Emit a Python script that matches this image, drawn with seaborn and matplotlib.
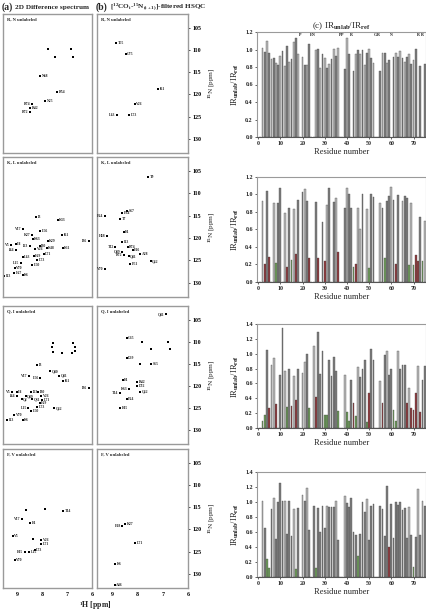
import numpy as np
import pandas as pd
import matplotlib
matplotlib.use('Agg')
import matplotlib.pyplot as plt
import seaborn as sns
from matplotlib.ticker import MultipleLocator

# ---------------- spectra data (1H ppm, 15N ppm) ----------------
a1_names = ['N68', 'R54', 'N25', 'R74', 'R42', 'R72']
a1_H = [8.10, 7.41, 7.89, 8.42, 8.49, 8.51]
a1_N = [115.9, 119.5, 121.4, 122.1, 123.1, 123.9]
a1_side = ['r', 'r', 'r', 'l', 'r', 'l']
a1_xH = [7.79, 7.50, 6.84, 6.76]
a1_xN = [109.7, 111.5, 109.7, 111.5]

b1_names = ['T55', 'G75', 'I61', 'V26', 'L43', 'L73']
b1_H = [8.85, 8.47, 7.18, 8.10, 8.80, 8.32]
b1_N = [108.5, 110.8, 118.8, 122.2, 124.6, 124.6]
b1_side = ['r', 'r', 'r', 'r', 'l', 'r']

a2_names = ['I3', 'K33', 'V17', 'L56', 'K27', 'I61', 'K29', 'I36', 'K63', 'I30', 'V5', 'L8',
            'I44', 'I23', 'V26', 'K48', 'K11', 'L71', 'L43', 'L69', 'L73', 'L15', 'L50',
            'V70', 'L67', 'I13', 'K6']
a2_H = [8.25, 7.38, 8.80, 8.09, 8.42, 7.21, 7.80, 6.12, 8.40, 8.12, 9.28, 9.08,
        9.08, 8.51, 8.29, 7.83, 7.19, 7.96, 8.81, 8.36, 8.22, 8.88, 8.42,
        9.12, 9.15, 9.54, 8.81]
a2_N = [115.4, 115.9, 117.9, 118.4, 119.3, 119.3, 120.7, 120.7, 120.3, 121.7, 121.6, 121.3,
        122.6, 121.7, 122.5, 122.3, 122.3, 123.6, 124.2, 124.1, 124.9, 125.6, 126.0,
        126.8, 127.9, 128.4, 128.2]
a2_side = ['r', 'r', 'l', 'r', 'l', 'r', 'r', 'l', 'r', 'r', 'l', 'r',
           'l', 'l', 'r', 'r', 'r', 'r', 'r', 'r', 'r', 'l', 'r',
           'r', 'r', 'r', 'r']

b2_names = ['T9', 'S57', 'E34', 'E64', 'T7', 'F4', 'H68', 'I13', 'T12', 'R74', 'E16',
            'A28', 'Q49', 'R72', 'Q41', 'E51', 'Q62', 'V70']
b2_H = [7.58, 8.42, 8.60, 9.30, 8.69, 8.55, 9.19, 8.60, 8.87, 8.38, 8.19,
        7.88, 8.60, 8.55, 8.35, 8.28, 7.47, 9.30]
b2_N = [106.3, 113.9, 114.5, 115.0, 115.7, 118.6, 119.6, 120.8, 122.0, 122.0, 122.8,
        123.6, 123.1, 123.9, 124.1, 125.9, 125.2, 127.0]
b2_side = ['r', 'r', 'r', 'l', 'r', 'r', 'l', 'r', 'l', 'r', 'r',
           'r', 'l', 'l', 'r', 'r', 'r', 'l']

a3_names = ['I3', 'Q40', 'V17', 'L56', 'Q41', 'I61', 'I36', 'I23', 'V5', 'L8', 'I30', 'I44',
            'Q49', 'V26', 'Q2', 'Q31', 'L71', 'L69', 'L73', 'Q62', 'L15', 'L50', 'V70',
            'I13', 'K6']
a3_H = [8.22, 7.69, 8.55, 8.09, 7.33, 7.17, 6.14, 8.46, 9.25, 9.04, 8.18, 9.04,
        8.68, 8.06, 8.85, 8.42, 8.02, 8.12, 8.22, 7.53, 8.58, 8.46, 9.15,
        9.43, 8.81]
a3_N = [115.3, 116.7, 117.8, 118.2, 117.7, 119.0, 120.6, 121.3, 121.3, 121.3, 121.3, 122.4,
        122.3, 122.2, 123.0, 123.1, 123.3, 124.0, 124.7, 125.1, 125.1, 125.7, 126.7,
        127.7, 127.8]
a3_side = ['r', 'r', 'l', 'l', 'r', 'r', 'l', 'r', 'l', 'r', 'r', 'l',
           'r', 'r', 'r', 'r', 'r', 'r', 'r', 'r', 'l', 'r', 'r',
           'r', 'r']
a3_xH = [7.56, 6.77, 7.60, 6.68, 7.56, 7.23, 6.80, 6.68]
a3_xN = [110.4, 110.4, 111.3, 111.3, 112.4, 112.6, 112.6, 112.2]

b3_names = ['Q41', 'G35', 'D39', 'S65', 'F4', 'R42', 'K63', 'D52', 'Q62', 'T14', 'E24', 'F45']
b3_H = [6.87, 8.42, 8.42, 7.47, 8.58, 8.02, 8.35, 8.02, 7.88, 8.69, 8.42, 8.69]
b3_N = [103.8, 109.1, 113.7, 115.0, 118.6, 119.1, 120.7, 120.0, 121.3, 121.7, 123.1, 125.1]
b3_side = ['l', 'r', 'r', 'r', 'r', 'r', 'l', 'r', 'r', 'l', 'r', 'r']
b3_xH = [7.81, 6.80, 7.47, 6.73, 7.88]
b3_xN = [110.1, 110.1, 111.7, 111.7, 115.1]

a4_names = ['T14', 'V17', 'F4', 'V5', 'V26', 'L71', 'L73', 'F45', 'L15', 'V70']
a4_H = [7.17, 8.85, 8.49, 9.21, 8.06, 8.06, 8.32, 8.72, 8.55, 9.12]
a4_N = [115.9, 117.7, 118.5, 121.4, 122.4, 123.3, 124.6, 125.2, 125.2, 126.9]
a4_side = ['r', 'l', 'r', 'r', 'r', 'r', 'r', 'l', 'r', 'r']
a4_xH = [8.68, 7.89, 8.38]
a4_xN = [115.7, 115.4, 122.2]

b4_names = ['E18', 'K27', 'L71', 'K6', 'A46']
b4_H = [8.60, 8.49, 8.08, 8.89, 8.89]
b4_N = [119.3, 118.9, 123.1, 127.7, 132.5]
b4_side = ['l', 'r', 'r', 'r', 'r']

panel_titles = ['R, N unlabeled', 'K, L unlabeled', 'Q, I unlabeled', 'F, V unlabeled']
n_ticks = [105, 110, 115, 120, 125, 130]
h_ticks = [9, 8, 7, 6]

# ---------------- IR ratio data ----------------
c1_res = [2, 3, 4, 5, 6, 7, 8, 9, 10, 11, 12, 13, 14, 15, 16, 17, 18,
          20, 21, 22, 23, 26, 27, 28, 29, 30, 31, 32, 33, 34, 35, 36,
          39, 40, 41, 43, 44, 45, 46, 47, 48, 49, 50, 51, 52,
          55, 56, 57, 58, 59, 61, 62, 63, 64, 65, 66, 67, 68, 69, 70, 71, 73, 75]
c1_val = [1.02, 0.97, 1.10, 0.96, 0.89, 0.90, 0.85, 0.82, 0.93, 0.98, 0.81, 1.04, 0.86, 0.89, 1.09, 1.13, 0.95,
          0.92, 0.82, 0.82, 1.06, 1.00, 1.01, 0.79, 0.95, 0.90, 0.79, 0.84, 0.89, 1.01, 0.93, 1.02,
          0.78, 1.13, 0.95, 0.76, 0.95, 1.00, 0.95, 1.00, 0.82, 0.96, 1.01, 0.90, 0.85,
          0.75, 0.96, 0.96, 0.85, 0.88, 0.92, 0.96, 0.91, 0.98, 0.90, 0.86, 0.92, 0.95, 0.84, 0.88, 1.01, 0.81, 0.84]
c1_missing_res = [19, 24, 25, 37, 38, 42, 53, 54, 60, 72, 74]
c1_missing_aa = ['P', 'E', 'N', 'P', 'P', 'R', 'G', 'R', 'N', 'R', 'R']

c2_res = [2, 3, 4, 5, 7, 8, 9, 10, 12, 13, 14, 15, 16, 17, 18, 20, 21, 22, 23, 26, 27, 29, 30, 31, 32,
          34, 35, 36, 39, 40, 41, 42, 43, 44, 45, 46, 47, 49, 50, 51, 52, 55, 56, 57, 58, 59, 60,
          61, 62, 63, 65, 66, 67, 68, 69, 70, 71, 72, 73, 74, 75]
c2_val = [0.93, 0.21, 1.04, 0.29, 0.90, 0.22, 0.90, 1.07, 0.79, 0.17, 0.84, 0.25, 0.83, 0.32, 0.94,
          1.03, 1.06, 0.93, 0.27, 0.91, 0.27, 0.68, 0.24, 0.88, 1.07, 0.91, 0.96, 0.34, 0.85, 1.07,
          1.01, 0.84, 0.17, 0.21, 0.85, 0.61, 1.00, 0.83, 0.16, 1.01, 0.97, 0.90, 0.85, 0.27, 0.92,
          0.98, 1.08, 0.94, 0.21, 0.99, 0.92, 0.98, 0.96, 0.19, 0.90, 0.19, 0.31, 0.24, 0.74, 0.24, 0.70]
c2_cat = ['light', 'red', 'dark', 'red', 'light', 'green', 'dark', 'dark', 'light', 'red', 'dark', 'green',
          'light', 'red', 'dark', 'dark', 'light', 'dark', 'red', 'dark', 'red', 'dark', 'red', 'light',
          'dark', 'dark', 'light', 'red', 'dark', 'light', 'dark', 'dark', 'green', 'red', 'light',
          'light', 'dark', 'light', 'green', 'dark', 'dark', 'light', 'dark', 'green', 'dark', 'dark',
          'light', 'dark', 'red', 'dark', 'light', 'dark', 'dark', 'green', 'light', 'green', 'red',
          'red', 'dark', 'green', 'light']

c3_res = [2, 3, 4, 5, 6, 7, 8, 10, 11, 12, 13, 14, 15, 16, 17, 18, 20, 21, 22, 23, 25, 26, 27, 28, 29,
          30, 31, 32, 33, 34, 35, 36, 39, 40, 41, 42, 43, 44, 45, 46, 47, 48, 49, 50, 51, 52, 55,
          56, 57, 58, 59, 60, 61, 62, 63, 64, 65, 66, 67, 68, 69, 70, 71, 72, 73, 74, 75]
c3_val = [0.10, 0.17, 1.05, 0.27, 0.85, 0.94, 0.32, 0.72, 1.34, 0.77, 0.28, 0.79, 0.30, 0.70, 0.38,
          0.80, 0.74, 0.89, 1.00, 0.27, 1.10, 0.42, 1.29, 0.73, 1.04, 0.18, 0.18, 0.92, 0.70, 0.96,
          0.77, 0.23, 0.72, 0.22, 0.10, 0.65, 0.33, 0.16, 0.82, 0.69, 0.80, 0.92, 0.08, 0.47, 1.07,
          0.91, 0.63, 0.34, 0.98, 1.04, 0.71, 0.79, 0.24, 0.10, 1.03, 0.80, 0.85, 0.85, 0.34, 0.54,
          0.27, 0.24, 0.47, 0.83, 0.22, 0.65, 0.83]
c3_cat = ['green', 'green', 'dark', 'red', 'light', 'light', 'red', 'dark', 'dark', 'light', 'green',
          'dark', 'red', 'light', 'red', 'dark', 'light', 'light', 'dark', 'green', 'light', 'red',
          'dark', 'dark', 'dark', 'green', 'green', 'dark', 'dark', 'dark', 'dark', 'green', 'light',
          'green', 'green', 'dark', 'red', 'green', 'light', 'dark', 'dark', 'dark', 'green', 'red',
          'dark', 'dark', 'light', 'red', 'dark', 'light', 'dark', 'dark', 'green', 'green', 'light',
          'dark', 'dark', 'dark', 'red', 'light', 'red', 'red', 'red', 'light', 'red', 'dark', 'dark']

c4_res = [2, 3, 4, 5, 6, 7, 8, 9, 10, 11, 12, 13, 14, 15, 16, 17, 18, 20, 21, 22, 23, 25, 26, 27, 28,
          29, 30, 31, 32, 33, 34, 35, 36, 39, 40, 41, 42, 43, 44, 45, 46, 47, 48, 49, 50, 51, 52,
          55, 56, 57, 58, 59, 60, 61, 62, 63, 64, 65, 66, 67, 68, 69, 70, 71, 72, 73, 74, 75]
c4_val = [1.02, 0.66, 0.24, 0.12, 0.91, 1.06, 0.51, 1.00, 1.25, 1.02, 1.02, 0.57, 1.02, 0.55, 0.91,
          0.11, 0.92, 1.09, 1.02, 1.19, 0.63, 0.95, 0.12, 0.92, 0.60, 0.95, 0.65, 0.95, 0.94, 0.94,
          0.94, 1.02, 0.49, 1.08, 0.99, 0.93, 1.06, 0.60, 0.56, 0.28, 0.57, 1.00, 0.87, 1.04, 0.50,
          0.95, 0.97, 0.95, 0.91, 0.55, 1.21, 0.40, 0.98, 0.52, 1.00, 0.96, 1.00, 0.89, 0.92, 0.52,
          0.93, 0.56, 0.14, 0.54, 1.18, 0.56, 1.02, 0.95]
c4_cat = ['light', 'dark', 'green', 'green', 'dark', 'light', 'dark', 'dark', 'dark', 'dark', 'light',
          'dark', 'dark', 'dark', 'light', 'green', 'dark', 'light', 'dark', 'light', 'dark', 'dark',
          'green', 'dark', 'dark', 'dark', 'dark', 'light', 'dark', 'dark', 'dark', 'light', 'dark',
          'light', 'dark', 'dark', 'dark', 'dark', 'dark', 'green', 'dark', 'dark', 'dark', 'light',
          'dark', 'dark', 'dark', 'dark', 'dark', 'dark', 'dark', 'red', 'dark', 'dark', 'dark',
          'dark', 'dark', 'dark', 'dark', 'dark', 'light', 'dark', 'green', 'dark', 'light', 'dark',
          'light', 'dark']

# ---------------- style ----------------
sns.set_theme(style='white')
plt.rcParams['font.family'] = ['Liberation Serif', 'DejaVu Serif']
plt.rcParams['font.weight'] = 'bold'
plt.rcParams['mathtext.fontset'] = 'custom'
plt.rcParams['mathtext.rm'] = 'Liberation Serif:bold'
plt.rcParams['mathtext.it'] = 'Liberation Serif:bold'
plt.rcParams['mathtext.bf'] = 'Liberation Serif:bold'

W, H = 426, 612
fig = plt.figure(figsize=(W / 100, H / 100), dpi=100)


def rect(x0, y0, x1, y1):
    return [x0 / W, 1 - y1 / H, (x1 - x0) / W, (y1 - y0) / H]


FRAME = '#9a9a9a'
pal = {'light': '#b8b8b8', 'dark': '#7d7d7d', 'red': '#9e2a2f', 'green': '#6aa84f'}


def spectrum(r, title, names, hs, ns, sides, xh=None, xn=None, right=False, bottom=False):
    ax = fig.add_axes(r)
    df = pd.DataFrame({'H': hs, 'N': ns})
    sns.scatterplot(data=df, x='H', y='N', ax=ax, s=2.2, color='black', marker='s', linewidth=0)
    if xh is not None:
        dx = pd.DataFrame({'H': xh, 'N': xn})
        sns.scatterplot(data=dx, x='H', y='N', ax=ax, s=1.5, color='black', marker='s', linewidth=0)
    for nm, h, n, sd in zip(names, hs, ns, sides):
        if sd == 'r':
            ax.text(h - 0.06, n, nm, fontsize=2.7, ha='left', va='center')
        else:
            ax.text(h + 0.06, n, nm, fontsize=2.7, ha='right', va='center')
    ax.text(0.04, 0.975, title, transform=ax.transAxes, fontsize=3.3, ha='left', va='top')
    ax.set_xlim(9.6, 6.0)
    ax.set_ylim(133.2, 101.9)
    for s in ax.spines.values():
        s.set_color(FRAME)
        s.set_linewidth(1.0)
        s.set_visible(True)
    ax.set_xlabel('')
    ax.set_ylabel('')
    if right:
        ax.yaxis.tick_right()
        ax.set_yticks(n_ticks)
        ax.set_yticklabels([str(t) for t in n_ticks], fontsize=4.3)
        ax.tick_params(axis='y', direction='out', length=1.5, width=0.5, pad=1.5, colors='black')
        ax.yaxis.set_label_position('right')
        ax.set_ylabel('$^{15}$N [ppm]', fontsize=5.2, rotation=90, labelpad=4)
    else:
        ax.set_yticks([])
    if bottom:
        ax.set_xticks(h_ticks)
        ax.set_xticklabels([str(t) for t in h_ticks], fontsize=4.3)
        ax.tick_params(axis='x', direction='out', length=1.5, width=0.5, pad=1.5, colors='black')
    else:
        ax.set_xticks([])
    return ax


rows_spec = [(14, 153), (157, 297), (306, 444), (449, 588)]
a_data = [(a1_names, a1_H, a1_N, a1_side, a1_xH, a1_xN),
          (a2_names, a2_H, a2_N, a2_side, None, None),
          (a3_names, a3_H, a3_N, a3_side, a3_xH, a3_xN),
          (a4_names, a4_H, a4_N, a4_side, a4_xH, a4_xN)]
b_data = [(b1_names, b1_H, b1_N, b1_side, None, None),
          (b2_names, b2_H, b2_N, b2_side, None, None),
          (b3_names, b3_H, b3_N, b3_side, b3_xH, b3_xN),
          (b4_names, b4_H, b4_N, b4_side, None, None)]

for i, (y0, y1) in enumerate(rows_spec):
    last = i == 3
    spectrum(rect(3, y0, 92, y1), panel_titles[i], *a_data[i], right=False, bottom=last)
    spectrum(rect(97, y0, 188, y1), panel_titles[i], *b_data[i], right=True, bottom=last)

fig.text(2 / W, 1 - 7 / H, '(a)', fontsize=7.0, ha='left', va='center')
fig.text(15 / W, 1 - 7 / H, '2D Difference spectrum', fontsize=5.2, ha='left', va='center')
fig.text(96 / W, 1 - 7 / H, '(b)', fontsize=7.0, ha='left', va='center')
fig.text(110 / W, 1 - 7 / H, '[$^{12}$CO$_{i}$-$^{15}$N$_{(i+1)}$]-filtered HSQC', fontsize=5.2,
         ha='left', va='center')
fig.text(95 / W, 1 - 606 / H, '$^{1}$H [ppm]', fontsize=5.6, ha='center', va='center')


def bars(r, res, val, cat, ymax, yticks):
    ax = fig.add_axes(r)
    df = pd.DataFrame({'res': res, 'val': val, 'cat': cat})
    sns.barplot(data=df, x='res', y='val', hue='cat', palette=pal, native_scale=True,
                dodge=False, legend=False, errorbar=None, ax=ax, width=0.8,
                edgecolor='#4a4a4a', linewidth=0.25)
    ax.set_xlim(-0.5, 75.6)
    ax.set_ylim(0, ymax)
    ax.set_yticks(yticks)
    ax.set_yticklabels(['%.1f' % t for t in yticks], fontsize=4.3)
    ax.set_xticks(range(0, 80, 10))
    ax.set_xticklabels([str(t) for t in range(0, 80, 10)], fontsize=4.3)
    ax.xaxis.set_minor_locator(MultipleLocator(1))
    ax.tick_params(axis='both', which='major', direction='out', length=1.5, width=0.5, pad=1.5,
                   bottom=True, left=True)
    ax.tick_params(axis='x', which='minor', direction='in', length=0.8, width=0.3, bottom=True,
                   color='#777777')
    for s in ax.spines.values():
        s.set_color(FRAME)
        s.set_linewidth(0.8)
        s.set_visible(True)
    ax.spines['bottom'].set_color('#555555')
    ax.set_xlabel('Residue number', fontsize=6, labelpad=1.5)
    ax.set_ylabel('IR$_{\\mathrm{unlab}}$/IR$_{\\mathrm{ref}}$', fontsize=6, labelpad=3)
    return ax


ax1 = bars(rect(257, 32, 426, 137), c1_res, c1_val,
           ['light' if r % 2 == 0 else 'dark' for r in c1_res], 1.2,
           [0, 0.2, 0.4, 0.6, 0.8, 1.0, 1.2])
for r_, aa in zip(c1_missing_res, c1_missing_aa):
    ax1.text(r_, 1.17, aa, fontsize=3.0, ha='center', va='center')
ax1.set_title('(c) IR$_{\\mathrm{unlab}}$/IR$_{\\mathrm{ref}}$', fontsize=6.5, pad=3)

bars(rect(257, 177, 426, 282), c2_res, c2_val, c2_cat, 1.2, [0, 0.2, 0.4, 0.6, 0.8, 1.0, 1.2])
bars(rect(257, 324, 426, 428), c3_res, c3_val, c3_cat, 1.4, [0, 0.2, 0.4, 0.6, 0.8, 1.0, 1.2, 1.4])
bars(rect(257, 472, 426, 577), c4_res, c4_val, c4_cat, 1.4, [0, 0.2, 0.4, 0.6, 0.8, 1.0, 1.2, 1.4])

fig.savefig('out.png', dpi=100)
